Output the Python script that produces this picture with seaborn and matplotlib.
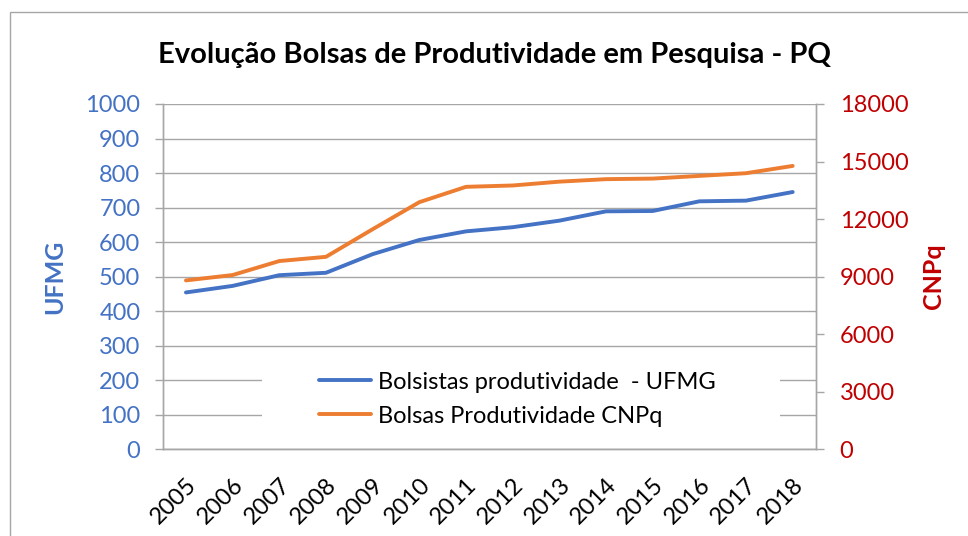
import matplotlib
matplotlib.use("Agg")
import matplotlib.pyplot as plt
from matplotlib.patches import Rectangle
from matplotlib.lines import Line2D
import pandas as pd
import seaborn as sns

# dados
anos = ["2005", "2006", "2007", "2008", "2009", "2010", "2011",
        "2012", "2013", "2014", "2015", "2016", "2017", "2018"]
bolsistas_ufmg = [454, 473, 504, 511, 565, 606, 631, 643, 662, 689, 690, 718, 720, 745]
bolsas_cnpq = [8800, 9080, 9810, 10030, 11470, 12880, 13680, 13750, 13950,
               14080, 14110, 14250, 14390, 14770]
ticks_ufmg = list(range(0, 1001, 100))
ticks_cnpq = list(range(0, 18001, 3000))

azul = "#4472C4"
laranja = "#ED7D31"
vermelho = "#C00000"
cinza = "#A6A6A6"

sns.set_theme(style="white")
plt.rcParams["font.family"] = ["Lato", "DejaVu Sans"]
plt.rcParams["text.color"] = "black"

df = pd.DataFrame({"ano": anos, "ufmg": bolsistas_ufmg, "cnpq": bolsas_cnpq})
df["pos"] = range(len(anos))

fig = plt.figure(figsize=(9.68, 5.36), dpi=100)
ax = fig.add_axes([0.168, 0.162, 0.675, 0.644])
ax2 = ax.twinx()

sns.lineplot(data=df, x="pos", y="ufmg", ax=ax, color=azul, lw=2.8, legend=False, zorder=3)
sns.lineplot(data=df, x="pos", y="cnpq", ax=ax2, color=laranja, lw=2.8, legend=False, zorder=3)

ax.set_xlim(-0.5, len(anos) - 0.5)
ax.set_ylim(0, 1000)
ax2.set_ylim(0, 18000)
ax.set_yticks(ticks_ufmg)
ax2.set_yticks(ticks_cnpq)

ax.set_xticks(range(len(anos)))
ax.set_xticklabels(anos, rotation=45, ha="right", rotation_mode="anchor", fontsize=17, color="black")
ax.set_xticks([i - 0.5 for i in range(len(anos) + 1)], minor=True)
ax.tick_params(axis="x", which="major", length=0, pad=18)
ax.tick_params(axis="x", which="minor", length=4.5, width=1, color=cinza, direction="out")

ax.tick_params(axis="y", length=6, width=1, color=cinza, labelcolor=azul, labelsize=17,
               left=True, direction="out", pad=10)
ax2.tick_params(axis="y", length=6, width=1, color=cinza, labelcolor=vermelho, labelsize=17,
                right=True, direction="out", pad=11)

ax.yaxis.grid(True, color=cinza, lw=1)
ax.set_axisbelow(True)
for a in (ax, ax2):
    a.spines["top"].set_visible(False)
    for s in ("left", "right", "bottom"):
        a.spines[s].set_color(cinza)
        a.spines[s].set_linewidth(1)

ax.set_xlabel("")
ax.set_ylabel("UFMG", color=azul, fontsize=18, fontweight="bold", labelpad=14)
ax2.set_ylabel("CNPq", color=vermelho, fontsize=18, fontweight="bold", labelpad=10)

fig.suptitle("Evolução Bolsas de Produtividade em Pesquisa - PQ", fontsize=21,
             fontweight="bold", color="black", x=0.511, y=0.897, va="center")

# fundo branco da legenda sobre as linhas de grade
ax.add_patch(Rectangle((0.152, 0.025), 0.793, 0.245, transform=ax.transAxes,
                       facecolor="white", edgecolor="none", zorder=1))
handles = [Line2D([], [], color=azul, lw=2.8), Line2D([], [], color=laranja, lw=2.8)]
ax2.legend(handles, ["Bolsistas produtividade  - UFMG", "Bolsas Produtividade CNPq"],
           loc="center left", bbox_to_anchor=(0.207, 0.145), frameon=False, fontsize=17,
           handlelength=2.2, handletextpad=0.3, labelspacing=0.55)

fig.add_artist(Rectangle((10 / 968, -0.1), 1.2, 1.1 - 12 / 536, transform=fig.transFigure,
                         facecolor="none", edgecolor=cinza, lw=1))

fig.savefig("out.png", dpi=100)
